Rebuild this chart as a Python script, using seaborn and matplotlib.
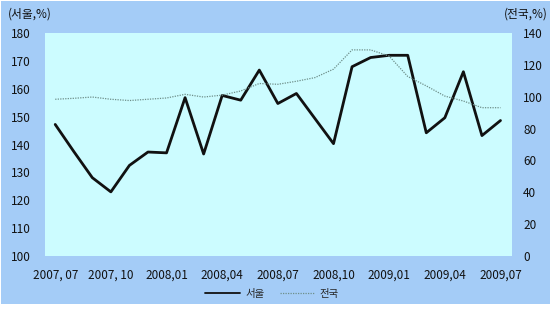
import matplotlib
matplotlib.use("Agg")
import matplotlib.pyplot as plt
import seaborn as sns
import pandas as pd
from matplotlib.patches import Rectangle
from matplotlib.lines import Line2D

months = ["2007.07", "2007.08", "2007.09", "2007.10", "2007.11", "2007.12",
          "2008.01", "2008.02", "2008.03", "2008.04", "2008.05", "2008.06",
          "2008.07", "2008.08", "2008.09", "2008.10", "2008.11", "2008.12",
          "2009.01", "2009.02", "2009.03", "2009.04", "2009.05", "2009.06",
          "2009.07"]
seoul = [147.2, 137.5, 128.1, 123.0, 132.5, 137.3, 137.0, 156.8, 136.6, 157.6,
         155.9, 166.7, 154.7, 158.3, 149.3, 140.3, 167.9, 171.2, 172.0, 172.0,
         144.2, 149.6, 166.1, 143.2, 148.6]
national = [98.4, 99.0, 99.8, 98.4, 97.6, 98.4, 99.2, 101.5, 99.8, 101.0,
            103.6, 108.3, 107.8, 109.7, 112.0, 117.3, 129.4, 129.4, 125.5, 112.7,
            106.8, 100.4, 97.3, 93.1, 93.1]
tick_labels = ["2007, 07", "2007, 10", "2008,01", "2008,04", "2008,07",
               "2008,10", "2009,01", "2009,04", "2009,07"]
left_label = "(서울,%)"
right_label = "(전국,%)"
legend_names = ["서울", "전국"]

sns.set_theme(style="white")
plt.rcParams['font.family'] = ['Noto Sans CJK KR', 'DejaVu Sans']

df = pd.DataFrame({"idx": range(len(months)), "seoul": seoul, "national": national})

W, H = 554, 309
fig = plt.figure(figsize=(5.54, 3.09), dpi=100, facecolor="white")
bg = fig.add_axes([0, 0, 1, 1], zorder=-10)
bg.set_xlim(0, W)
bg.set_ylim(H, 0)
bg.axis("off")
bg.add_patch(Rectangle((1, 1), 549, 303, facecolor="#A4CCF7", edgecolor="none"))

ax = fig.add_axes([45 / W, 1 - 256 / H, (512 - 45) / W, (256 - 33) / H], zorder=1)
ax.set_facecolor("#CCFCFF")
ax2 = ax.twinx()

sns.lineplot(data=df, x="idx", y="seoul", ax=ax, color="#111111", lw=2.0)
sns.lineplot(data=df, x="idx", y="national", ax=ax2, color="#6E8F8A", lw=0.9,
             linestyle=(0, (1, 1)))

ax.set_xlim(-0.55, 24.62)
ax.set_ylim(100, 180)
ax2.set_ylim(0, 140)
ax.set_yticks(range(100, 181, 10))
ax2.set_yticks(range(0, 141, 20))
ax.set_xticks(range(0, 25, 3))
ax.set_xticklabels(tick_labels)
ax.set_xlabel("")
ax.set_ylabel("")
ax2.set_ylabel("")
for a in (ax, ax2):
    for s in a.spines.values():
        s.set_visible(False)
ax.tick_params(axis="y", length=0, pad=10, labelsize=8.5, labelcolor="#111111")
ax.tick_params(axis="x", length=0, pad=9, labelsize=8.5, labelcolor="#111111")
ax2.tick_params(axis="y", length=0, pad=8, labelsize=8.5, labelcolor="#111111")

fig.text(8 / W, 1 - 14 / H, left_label, fontsize=8.5, va="center", ha="left", color="#111111")
fig.text(548 / W, 1 - 14 / H, right_label, fontsize=8.5, va="center", ha="right", color="#111111")

handles = [Line2D([], [], color="#111111", lw=1.3),
           Line2D([], [], color="#6E8F8A", lw=0.9, linestyle=(0, (1, 1)))]
fig.legend(handles, legend_names, loc="center", bbox_to_anchor=(272 / W, 1 - 294 / H),
           ncol=2, frameon=False, fontsize=7.5, handlelength=3.3, columnspacing=1.5,
           handletextpad=0.5)

fig.savefig("out.png", dpi=100, facecolor="white")
